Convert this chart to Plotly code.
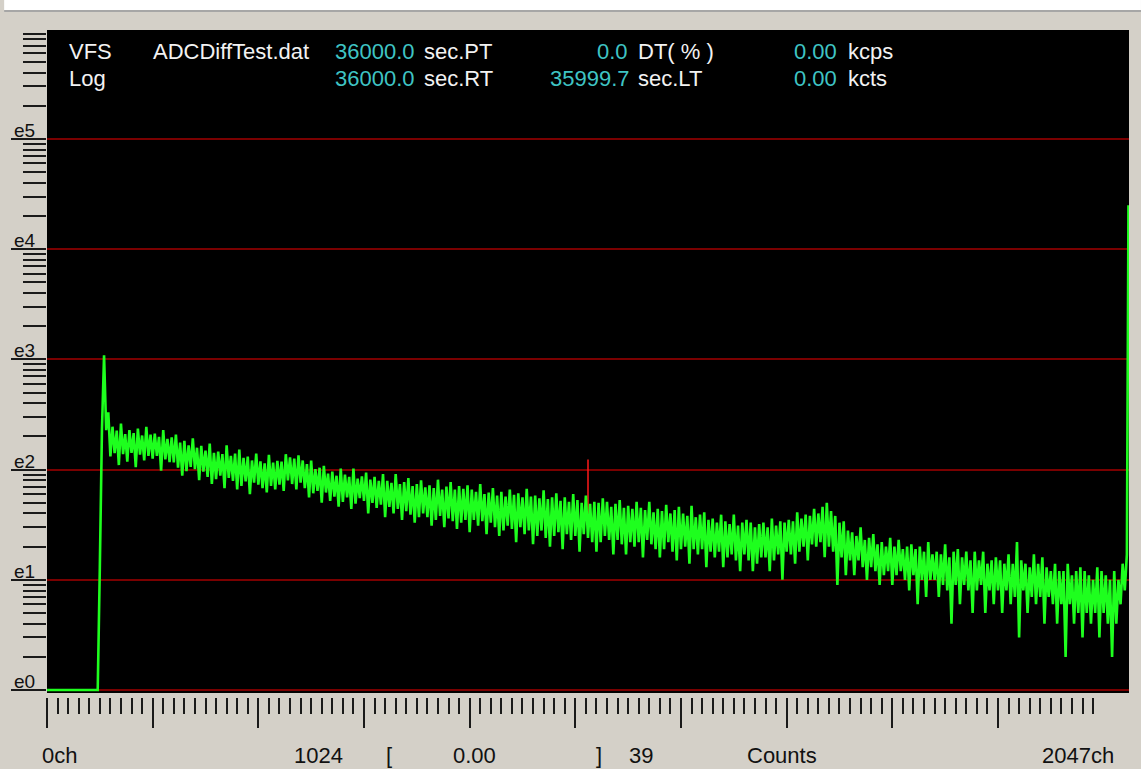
import plotly.graph_objects as go

# ---------------- data ----------------
GROUP = 8  # channels per stored group (low value at start, high value at middle)

low_counts = [
    0, 0, 0, 0, 0, 0, 0, 0, 0, 0, 0, 0,
    0, 230, 228,
    132, 141, 110, 138, 118, 142, 105, 137, 121, 133,
    126, 133, 98, 124, 117, 116, 104, 88, 97, 106,
    101, 80, 96, 86, 74, 82, 88, 68, 84, 79,
    66, 71, 78, 60, 76, 73, 68, 62, 71, 66,
    73, 64, 80, 74, 66, 76, 68, 56, 61, 64,
    50, 62, 52, 57, 46, 51, 56, 44, 49, 55,
    52, 40, 50, 45, 48, 37, 46, 40, 44, 35,
    42, 39, 33, 37, 40, 37, 31, 35, 38, 30,
    36, 34, 29, 33, 35, 27, 35, 31, 34, 26,
    33, 30, 25, 28, 31, 29, 22, 30, 26, 28,
    21, 25, 28, 24, 20, 25, 27, 19, 26, 23,
    25, 18, 26, 24, 22, 18, 22, 25, 23, 17,
    23, 21, 17, 22, 20, 22, 16, 23, 21, 19,
    16, 19, 22, 18, 15, 19, 20, 14, 19, 17,
    19, 13, 18, 16, 18, 13, 16, 17, 15, 12,
    17, 15, 12, 14, 16, 16, 12, 15, 17, 10,
    18, 17, 14, 18, 20, 15, 21, 20, 22, 16,
    20, 18, 9, 16, 11, 15, 11, 15, 13, 10,
    13, 12, 9, 11, 12, 9, 11, 12, 10, 8,
    11, 6, 10, 7, 10, 10, 7, 9, 8, 4,
    9, 6, 9, 8, 5, 8, 9, 5, 8, 6,
    8, 5, 8, 6, 7, 3, 8, 5, 7, 6,
    7, 4, 7, 6, 4, 6, 2, 6, 4, 5,
    3, 5, 4, 5, 3, 5, 4, 2, 4, 6,
    8,
]

high_counts = [
    0, 0, 0, 0, 0, 0, 0, 0, 0, 0, 0, 0,
    13, 1090, 331,
    245, 226, 262, 210, 228, 214, 236, 204, 245, 208,
    212, 198, 228, 190, 196, 208, 176, 182, 166, 192,
    158, 164, 149, 172, 142, 146, 138, 166, 133, 140,
    152, 128, 131, 121, 140, 119, 114, 136, 116, 120,
    118, 138, 129, 126, 135, 121, 112, 121, 101, 104,
    108, 92, 96, 88, 102, 90, 86, 102, 83, 87,
    94, 81, 86, 79, 91, 79, 76, 91, 74, 77,
    84, 71, 74, 80, 69, 72, 68, 81, 66, 70,
    77, 66, 71, 67, 72, 66, 63, 74, 60, 62,
    68, 58, 63, 57, 66, 59, 61, 56, 67, 57,
    58, 55, 65, 54, 56, 61, 52, 56, 51, 60,
    53, 50, 58, 49, 51, 50, 55, 51, 46, 49,
    53, 45, 47, 44, 51, 45, 43, 51, 41, 44,
    42, 48, 40, 43, 46, 40, 38, 47, 37, 39,
    41, 35, 36, 33, 39, 34, 32, 39, 31, 33,
    35, 33, 30, 32, 33, 30, 36, 31, 34, 33,
    35, 34, 41, 36, 39, 38, 44, 40, 46, 50,
    42, 38, 33, 34, 28, 27, 25, 30, 23, 24,
    26, 21, 22, 20, 24, 20, 23, 19, 20, 21,
    19, 20, 18, 22, 17, 18, 17, 21, 16, 18,
    19, 16, 18, 15, 18, 15, 18, 14, 15, 16,
    15, 14, 17, 14, 22, 15, 14, 13, 17, 14,
    16, 13, 12, 14, 12, 12, 14, 11, 12, 13,
    12, 11, 10, 13, 12, 11, 10, 12, 10, 14,
    17,
]

last_channel = 2047
last_count = 25000

cursor_channel = 1024
cursor_counts = 39
cursor_value = "0.00"

header_file = "ADCDiffTest.dat"
preset_time = "36000.0"
real_time = "36000.0"
dead_time = "0.0"
live_time = "35999.7"
rate_kcps = "0.00"
total_kcts = "0.00"

x_major = list(range(0, 1801, 200))
x_minor = [c for c in range(20, 1981, 20) if c % 200]
y_decades = [1, 10, 100, 1000, 10000, 100000]
y_labels = ["e0", "e1", "e2", "e3", "e4", "e5"]
y_minor = [k * 10 ** d for d in range(6) for k in range(2, 10)]

# ---------------- layout geometry ----------------
W, H = 1141, 769
ML, MR, MT, MB = 43, 12, 30, 72
PW = W - ML - MR
PH = H - MT - MB
GAP = 4


def px(xp):
    return (xp - ML) / PW


def py(yp):
    return (H - MB - yp) / PH


# ---------------- traces ----------------
floor = 1  # zero counts are drawn on the e0 floor
xs, ys = [], []
for g, (lo, hi) in enumerate(zip(low_counts, high_counts)):
    xs += [g * GROUP, g * GROUP + GROUP // 2]
    ys += [max(lo, floor), max(hi, floor)]
xs.append(last_channel)
ys.append(last_count)

fig = go.Figure()
fig.add_trace(go.Scatter(
    x=[cursor_channel, cursor_channel],
    y=[cursor_counts, cursor_counts * 10 ** 0.5],
    mode="lines", line=dict(color="#ff1a1a", width=1.5),
    hoverinfo="skip", showlegend=False))
fig.add_trace(go.Scatter(
    x=xs, y=ys, mode="lines",
    line=dict(color="#1eff1e", width=2.6),
    showlegend=False))

# ---------------- annotations ----------------
FONT = "Liberation Sans, Arial, sans-serif"
WHITE = "#f2f2f2"
CYAN = "#3fc4c4"
ann = []


def text(t, xp, yp, color, anchor="left", size=22, yanchor="middle"):
    ann.append(dict(text=t, x=px(xp), y=py(yp), xref="paper", yref="paper",
                    xanchor=anchor, yanchor=yanchor, showarrow=False,
                    font=dict(family=FONT, size=size, color=color)))


r1, r2 = 52, 78
text("VFS", 63, r1, WHITE)
text(header_file, 147, r1, WHITE)
text(preset_time, 414, r1, CYAN, "right")
text("sec.PT", 419, r1, WHITE)
text(dead_time, 628, r1, CYAN, "right")
text("DT( % )", 634, r1, WHITE)
text(rate_kcps, 838, r1, CYAN, "right")
text("kcps", 845, r1, WHITE)

text("Log", 63, r2, WHITE)
text(real_time, 414, r2, CYAN, "right")
text("sec.RT", 419, r2, WHITE)
text(live_time, 630, r2, CYAN, "right")
text("sec.LT", 634, r2, WHITE)
text(total_kcts, 838, r2, CYAN, "right")
text("kcts", 845, r2, WHITE)

BLACK = "#111111"
rb = 755
text("0ch", 36, rb, BLACK)
text(str(cursor_channel), 342, rb, BLACK, "right")
text("[", 381, rb, BLACK)
text(cursor_value, 472, rb, BLACK, "center")
text("]", 592, rb, BLACK)
text(str(cursor_counts), 625, rb, BLACK)
text("Counts", 744, rb, BLACK)
text(f"{last_channel}ch", 1116, rb, BLACK, "right")

for d, lab in enumerate(y_labels):  # annotation y on a log axis is log10
    ann.append(dict(text=lab, x=px(8), y=d, xref="paper", yref="y",
                    xanchor="left", yanchor="bottom", yshift=-4,
                    showarrow=False,
                    font=dict(family=FONT, size=19, color=BLACK)))

shapes = [
    dict(type="rect", xref="paper", yref="paper", x0=px(0), x1=px(W),
         y0=py(10), y1=py(-2), fillcolor="#ffffff", line=dict(width=0),
         layer="below"),
    dict(type="line", xref="paper", yref="paper", x0=px(0), x1=px(W),
         y0=py(11), y1=py(11), line=dict(color="#a6a6a6", width=2)),
]

TICK = "#1a1a1a"
fig.update_layout(
    width=W, height=H,
    margin=dict(l=ML, r=MR, t=MT, b=MB, pad=0),
    paper_bgcolor="#d4d0c8", plot_bgcolor="#000000",
    annotations=ann, shapes=shapes,
    hovermode=False,
    xaxis=dict(
        range=[0, 2048], domain=[0, 1], anchor="free", position=0,
        showgrid=False, zeroline=False, showline=False,
        showticklabels=False, ticks="outside", tickmode="array",
        tickvals=x_major, ticklen=30, tickwidth=2, tickcolor=TICK,
        minor=dict(tickmode="array", tickvals=x_minor, ticks="outside",
                   ticklen=16, tickwidth=2, tickcolor=TICK, showgrid=False),
    ),
    yaxis=dict(
        type="log", range=[-0.027, 5.989], domain=[GAP / PH, 1],
        showgrid=True, gridcolor="#7a0000", gridwidth=2,
        zeroline=False, showline=False, showticklabels=False,
        ticks="outside", tickmode="array", tickvals=y_decades,
        ticklen=35, tickwidth=2, tickcolor=TICK,
        minor=dict(tickmode="array", tickvals=y_minor, ticks="outside",
                   ticklen=23, tickwidth=2, tickcolor=TICK, showgrid=False),
    ),
)

fig.write_html(
    "out.html",
    config={"displayModeBar": False},
    post_script="document.body.style.margin='0';"
                "document.body.style.overflow='hidden';",
)
